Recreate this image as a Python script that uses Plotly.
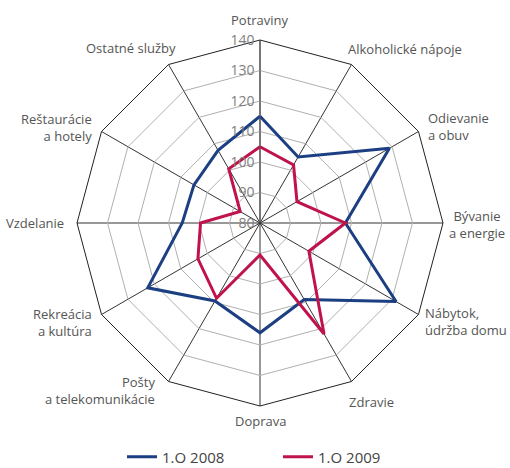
import math
import plotly.graph_objects as go

categories = ["Potraviny", "Alkoholické nápoje", "Odievanie<br>a obuv", "Bývanie<br>a energie",
              "Nábytok,<br>údržba domu", "Zdravie", "Doprava", "Pošty<br>a telekomunikácie",
              "Rekreácia<br>a kultúra", "Vzdelanie", "Reštaurácie<br>a hotely", "Ostatné služby"]
values_2008 = [115, 105, 129, 108, 131.5, 109, 116, 109.5, 122.5, 105.5, 105, 107.5]
values_2009 = [105, 102, 94, 108, 98.5, 122, 90.5, 108.5, 103.5, 99.5, 87.5, 100.5]
radial_ticks = [80, 90, 100, 110, 120, 130, 140]

W, H = 510, 468
cx, cy, R = 260, 223, 183

# category label placement relative to each spoke end (px offset, anchors, alignment)
label_place = [
    (0, -20, "center", "middle", "center"),
    (-6, -16, "left", "middle", "left"),
    (8, -5, "left", "middle", "left"),
    (34, 1, "center", "middle", "center"),
    (5, 7, "left", "middle", "left"),
    (-5, 21, "left", "middle", "left"),
    (0, 15, "center", "middle", "center"),
    (-12, 9, "right", "middle", "right"),
    (-8, 8, "right", "middle", "right"),
    (-11, 0, "right", "middle", "right"),
    (-8, -4, "right", "middle", "right"),
    (10, -17, "right", "middle", "right"),
]

fig = go.Figure()
fig.add_trace(go.Scatterpolar(r=values_2008 + values_2008[:1], theta=categories + categories[:1],
                              mode="lines", name="1.O 2008",
                              line=dict(color="#1c3e82", width=3)))
fig.add_trace(go.Scatterpolar(r=values_2009 + values_2009[:1], theta=categories + categories[:1],
                              mode="lines", name="1.O 2009",
                              line=dict(color="#c0124b", width=3)))

annotations = []
n = len(categories)
for i, (cat, (dx, dy, xa, ya, al)) in enumerate(zip(categories, label_place)):
    a = math.radians(360 * i / n)
    px = cx + R * math.sin(a) + dx
    py = cy - R * math.cos(a) + dy
    annotations.append(dict(text=cat, x=px / W, y=1 - py / H, xref="paper", yref="paper",
                            xanchor=xa, yanchor=ya, align=al, showarrow=False,
                            font=dict(size=13, color="#555555")))

fig.update_layout(
    width=W, height=H,
    margin=dict(l=0, r=0, t=0, b=0, autoexpand=False),
    paper_bgcolor="white",
    font=dict(family="Open Sans", size=13, color="#555555"),
    polar=dict(
        domain=dict(x=[(cx - R) / W, (cx + R) / W], y=[1 - (cy + R) / H, 1 - (cy - R) / H]),
        bgcolor="white",
        gridshape="linear",
        radialaxis=dict(range=[80, 140], tickvals=radial_ticks, angle=90,
                        side="counterclockwise", tickangle=90,
                        showline=True, linecolor="#555555", linewidth=1,
                        gridcolor="#b0b0b0", gridwidth=1, ticks="",
                        tickfont=dict(size=14, color="#808080")),
        angularaxis=dict(direction="clockwise", rotation=90,
                         showline=True, linecolor="#222222", linewidth=1,
                         gridcolor="#333333", gridwidth=1, ticks="",
                         showticklabels=False),
    ),
    annotations=annotations,
    legend=dict(orientation="h", x=278 / W, xanchor="center",
                y=1 - 457 / H, yanchor="middle",
                font=dict(size=15, color="#444444"), entrywidth=111),
)

fig.write_html("out.html", config={"displayModeBar": False},
               post_script="document.body.style.margin='0';document.body.style.overflow='hidden';")
